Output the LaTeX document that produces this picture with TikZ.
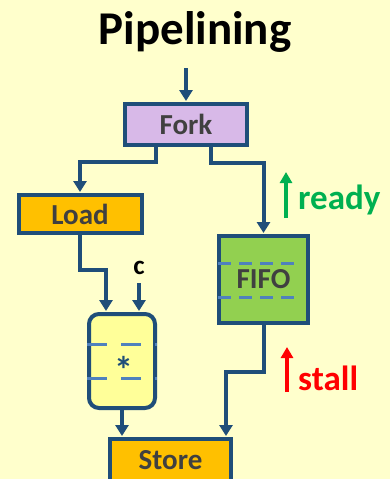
\documentclass[tikz,border=0pt]{standalone}
\usepackage{fontspec}
\setmainfont{Carlito}
\usetikzlibrary{arrows.meta}
\definecolor{bg}{HTML}{FFFFCC}
\definecolor{edgeblue}{HTML}{1F4E79}
\definecolor{dashblue}{HTML}{4F81BD}
\definecolor{forkfill}{HTML}{D8B9E8}
\definecolor{orangefill}{HTML}{FFC000}
\definecolor{multfill}{HTML}{FFFF99}
\definecolor{fifofill}{HTML}{92D050}
\definecolor{txtgray}{HTML}{404040}
\definecolor{readygreen}{HTML}{00B050}
\definecolor{stallred}{HTML}{FF0000}
\tikzset{
  box/.style={draw=edgeblue, line width=4pt, inner sep=0pt, text=txtgray,
    font=\fontsize{29}{29}\selectfont\bfseries},
  conn/.style={draw=edgeblue, line width=4pt,
    -{Triangle[width=13pt,length=11pt]}, shorten >=1pt},
  dashln/.style={draw=dashblue, line width=3pt},
  sig/.style={line width=4pt, -{Triangle[width=12pt,length=11pt]}},
  siglabel/.style={anchor=west, inner sep=0pt,
    font=\fontsize{35}{35}\selectfont\bfseries}
}
\begin{document}
\begin{tikzpicture}[x=1pt,y=-1pt]
\fill[bg] (0,0) rectangle (390,479);
\useasboundingbox (0,0) rectangle (390,479);

\node[anchor=base, inner sep=0pt, font=\fontsize{47}{47}\selectfont\bfseries] (title) at (195,44) {Pipelining};

\node[box, fill=forkfill, minimum width=122pt, minimum height=41pt] (fork) at (186,124.5) {Fork};
\node[box, fill=orangefill, minimum width=123pt, minimum height=38pt] (load) at (80,214) {Load};
\node[box, fill=multfill, rounded corners=10pt, minimum width=66pt, minimum height=94pt] (mult) at (122,361) {};
\node[box, fill=fifofill, minimum width=89pt, minimum height=87pt] (fifo) at (263.5,279.5) {};
\node[box, fill=orangefill, minimum width=121pt, minimum height=42pt] (store) at (170.5,460) {Store};

% dashes
\draw[dashln, dash pattern=on 20pt off 14pt] (87,344) -- (157,344);
\draw[dashln, dash pattern=on 20pt off 14pt] (87,378) -- (157,378);
\draw[dashln, dash pattern=on 13pt off 8pt] (218,263) -- (298,263);
\draw[dashln, dash pattern=on 13pt off 8pt] (218,297) -- (298,297);
\node[inner sep=0pt, text=edgeblue, font=\fontsize{38}{38}\selectfont\bfseries] (star) at (123.5,370) {*};
\node[inner sep=0pt, text=txtgray, font=\fontsize{29}{29}\selectfont\bfseries] (fifotxt) at (fifo.center) {FIFO};

% connectors
\coordinate (in) at (186,68);
\draw[conn] (in) -- (fork.north);
\draw[conn] (fork.south -| 156,0) -- (156,162) -| (load.north);
\draw[conn] (fork.south -| 211,0) -- (211,163) -| (fifo.north);
\draw[conn] (load.south) -- (80,270) -| (mult.north -| 106,0);
\node[inner sep=0pt, font=\fontsize{27}{27}\selectfont\bfseries] (c) at (139,268) {c};
\coordinate (cin) at (139,283);
\draw[conn] (cin) -- (mult.north -| cin);
\draw[conn] (fifo.south) -- (263.5,372) -| (store.north -| 226,0);
\draw[conn] (mult.south) -- (store.north -| mult.south);

% ready / stall
\coordinate (r1) at (286,218);
\coordinate (r2) at (286,172);
\draw[sig, draw=readygreen] (r1) -- (r2);
\node[siglabel, text=readygreen] (ready) at (298,200) {ready};
\coordinate (s1) at (287,392);
\coordinate (s2) at (287,347);
\draw[sig, draw=stallred] (s1) -- (s2);
\node[siglabel, text=stallred] (stall) at (298,378) {stall};
\end{tikzpicture}
\end{document}
